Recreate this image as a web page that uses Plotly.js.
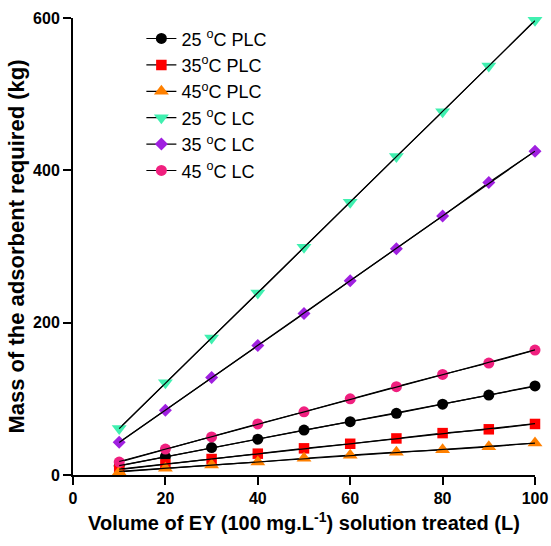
<!DOCTYPE html>
<html>
<head>
<meta charset="utf-8">
<script src="https://cdn.plot.ly/plotly-3.0.1.min.js"></script>
<style>html,body{margin:0;padding:0;background:#fff;}#chart{width:551px;height:546px;}</style>
</head>
<body>
<div id="chart"></div>
<script>
const volume = [10, 20, 30, 40, 50, 60, 70, 80, 90, 100];
const plc25 = [12, 24, 36, 47, 59, 70, 81, 93, 105, 117];
const plc35 = [7, 14, 21, 28, 35, 41, 48, 55, 60, 67];
const plc45 = [4, 9, 13, 17, 22, 26, 30, 33, 37, 42];
const lc25 = [61, 121, 180, 239, 299, 358, 418, 477, 537, 597];
const lc35 = [43, 85, 128, 170, 212, 255, 297, 340, 384, 425];
const lc45 = [17, 34, 50, 67, 83, 100, 116, 132, 147, 164];

const xTicks = [0, 20, 40, 60, 80, 100];
const yTicks = [0, 200, 400, 600];

const seriesNames = ['25 <sup>o</sup>C PLC', '35<sup>o</sup>C PLC', '45<sup>o</sup>C PLC', '25 <sup>o</sup>C LC', '35 <sup>o</sup>C LC', '45 <sup>o</sup>C LC'];
const seriesData = [plc25, plc35, plc45, lc25, lc35, lc45];
const colors = ['#000000', '#FF0000', '#FF8000', '#40F0B0', '#A020E0', '#F0207F'];
const symbols = ['circle', 'square', 'triangle-up', 'triangle-down', 'diamond', 'circle'];
const sizes = [11, 10.5, 13, 13, 10, 11];

function fit(xs, ys) {
  const n = xs.length;
  const mx = xs.reduce((a, b) => a + b, 0) / n;
  const my = ys.reduce((a, b) => a + b, 0) / n;
  let sxy = 0, sxx = 0;
  for (let i = 0; i < n; i++) { sxy += (xs[i] - mx) * (ys[i] - my); sxx += (xs[i] - mx) ** 2; }
  const b = sxy / sxx, a = my - b * mx;
  return xs.map(x => a + b * x);
}

const traces = [];
seriesData.forEach((ys, i) => {
  traces.push({
    x: volume, y: ys, name: seriesNames[i], type: 'scatter', mode: 'lines+markers',
    line: {color: '#000000', width: 1.2},
    marker: {color: colors[i], symbol: symbols[i], size: sizes[i], line: {width: 0}},
    cliponaxis: false
  });
});
seriesData.forEach((ys, i) => {
  traces.push({
    x: volume, y: fit(volume, ys), type: 'scatter', mode: 'lines', showlegend: false,
    line: {color: '#000000', width: 1.2}, hoverinfo: 'skip', cliponaxis: false
  });
});

const FONT = 'Arial, Liberation Sans, sans-serif';
const layout = {
  width: 551, height: 546,
  margin: {l: 73, r: 16, t: 18, b: 71},
  paper_bgcolor: '#fff', plot_bgcolor: '#fff',
  font: {family: FONT, color: '#000'},
  showlegend: true,
  legend: {x: 0.148, y: 0.995, xanchor: 'left', yanchor: 'top', font: {size: 18, family: FONT}, bgcolor: 'rgba(0,0,0,0)', itemwidth: 30},
  xaxis: {
    range: [0, 100], tickvals: xTicks, ticktext: xTicks.map(v => '<b>' + v + '</b>'),
    showgrid: false, zeroline: false,
    showline: true, linecolor: '#000', linewidth: 2, ticks: 'outside', ticklen: 8, tickwidth: 2, tickcolor: '#000',
    tickfont: {size: 16, family: FONT, weight: 700},
    title: {text: '<b>Volume of EY (100 mg.L<sup>-1</sup>) solution treated (L)</b>', font: {size: 20, family: FONT}, standoff: 10}
  },
  yaxis: {
    range: [0, 600], tickvals: yTicks, ticktext: yTicks.map(v => '<b>' + v + '</b>'),
    showgrid: false, zeroline: false,
    showline: true, linecolor: '#000', linewidth: 2, ticks: 'outside', ticklen: 8, tickwidth: 2, tickcolor: '#000',
    tickfont: {size: 16, family: FONT, weight: 700},
    title: {text: '<b>Mass of the adsorbent required (kg)</b>', font: {size: 22, family: FONT}, standoff: 2}
  }
};

Plotly.newPlot('chart', traces, layout, {displayModeBar: false, staticPlot: true});
</script>
</body>
</html>
